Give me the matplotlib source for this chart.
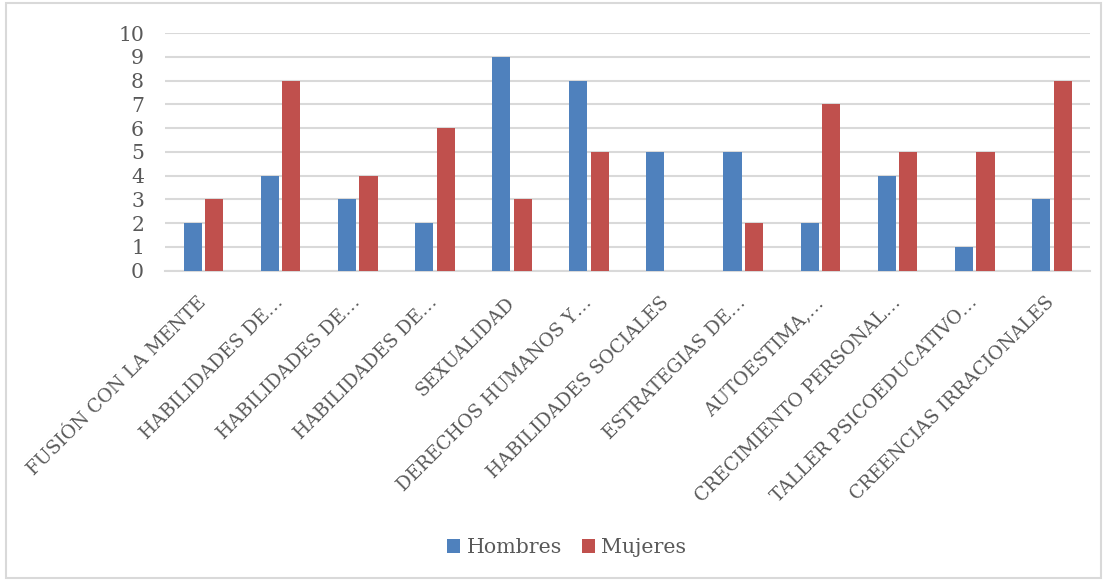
import matplotlib.pyplot as plt
import numpy as np

talleres = [
    "FUSIÓN CON LA MENTE",
    "HABILIDADES DE…",
    "HABILIDADES DE…",
    "HABILIDADES DE…",
    "SEXUALIDAD",
    "DERECHOS HUMANOS Y…",
    "HABILIDADES SOCIALES",
    "ESTRATEGIAS DE…",
    "AUTOESTIMA,…",
    "CRECIMIENTO PERSONAL…",
    "TALLER PSICOEDUCATIVO…",
    "CREENCIAS IRRACIONALES",
]
hombres = [2, 4, 3, 2, 9, 8, 5, 5, 2, 4, 1, 3]
mujeres = [3, 8, 4, 6, 3, 5, 0, 2, 7, 5, 5, 8]

plt.rcParams["font.family"] = ["DejaVu Serif"]
gris = "#595959"

fig = plt.figure(figsize=(11.07, 5.81), dpi=100)
ax = fig.add_axes([0.149, 0.534, 0.836, 0.409])

x = np.arange(len(talleres))
w = 0.235
ax.bar(x - 0.14, hombres, w, color="#4F81BD", label="Hombres", zorder=3)
ax.bar(x + 0.14, mujeres, w, color="#C0504D", label="Mujeres", zorder=3)

ax.set_xlim(-0.5, len(talleres) - 0.5)
ax.set_ylim(0, 10)
ax.set_yticks(range(0, 11))
ax.yaxis.grid(True, color="#D9D9D9", linewidth=1.5, zorder=0)
for s in ["top", "right", "left"]:
    ax.spines[s].set_visible(False)
ax.spines["bottom"].set_color("#D9D9D9")
ax.spines["bottom"].set_linewidth(1.5)
ax.tick_params(axis="both", length=0, colors=gris)
ax.tick_params(axis="y", labelsize=14.7, pad=15)
ax.tick_params(axis="x", pad=21)
ax.set_xticks(x)
ax.set_xticklabels(talleres, rotation=45, ha="right", va="center",
                   rotation_mode="anchor", fontsize=13.4)

fig.legend(loc="center", bbox_to_anchor=(0.512, 0.057), ncol=2, frameon=False,
           fontsize=14.8, labelcolor=gris, handlelength=0.62, handleheight=0.62,
           handletextpad=0.3, columnspacing=1.0)

# marco exterior del gráfico
fig.patches.append(plt.Rectangle((0.005, 0.006), 0.99, 0.988, transform=fig.transFigure,
                                 fill=False, edgecolor="#D9D9D9", linewidth=1.5))

fig.savefig("out.png", dpi=100)
